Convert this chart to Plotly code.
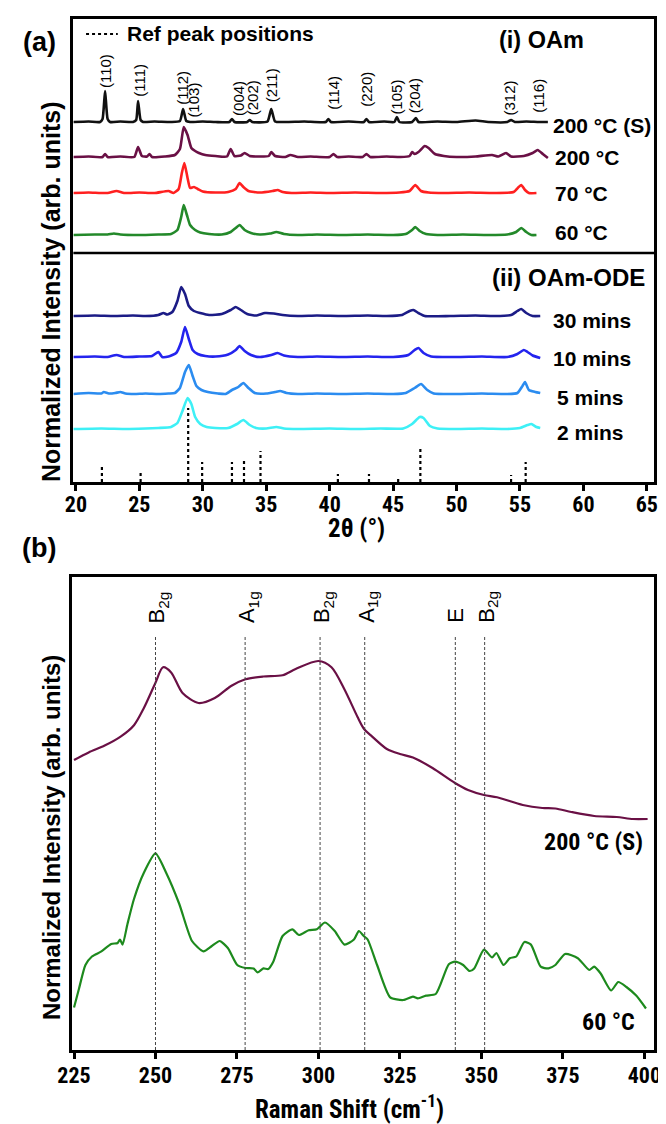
import plotly.graph_objects as go

W, H = 666, 1124

# ---------------- (a) XRD data (intensity in arbitrary units above each baseline) -------------
xrd_names = ["200 °C (S)", "200 °C", "70 °C", "60 °C", "30 mins", "10 mins", "5 mins", "2 mins"]

tt_200S = [19.8, 21.0, 21.9, 22.1, 22.3, 22.5, 22.7, 23.5, 24.5, 24.75, 24.9, 25.1, 25.3, 26.2, 27.5, 28.2,
           28.45, 28.7, 29.0, 30.0, 31.0, 32.1, 32.3, 32.5, 33.5, 33.7, 33.9, 35.1, 35.4, 35.7, 36.5, 38.0,
           39.7, 39.9, 40.1, 41.5, 42.7, 42.9, 43.1, 44.3, 45.1, 45.3, 45.5, 46.5, 46.8, 47.0, 48.5, 50.0,
           51.5, 52.5, 54.0, 54.3, 54.6, 55.5, 56.5, 57.2]
int_200S = [0, 0.5, 0, 3, 31, 3, 0, 0.5, 0, 2, 21, 2, 0, 0.5, 0, 1,
            13, 1, 0, 0.5, 0, 0, 3, 0, 0, 2, 0, 0.5, 13, 0.5, 0, 0.5,
            0, 3, 0, 0.5, 0, 3, 0, 0.5, 0, 5, 0, 0, 4, 0, 0.5, 0,
            1.5, 0, 0, 2, 0, 0.5, 0, 0]

tt_200 = [19.8, 21.0, 22.1, 22.3, 22.5, 23.5, 24.6, 24.9, 25.2, 25.6, 25.8, 26.0, 27.0, 27.8, 28.2, 28.5,
          28.8, 29.1, 29.4, 29.7, 30.2, 31.0, 31.9, 32.2, 32.5, 33.0, 33.3, 33.7, 34.5, 35.2, 35.4, 35.7,
          36.5, 36.9, 37.5, 38.5, 40.0, 40.3, 40.6, 41.5, 42.6, 42.9, 43.2, 44.5, 45.6, 46.3, 46.5, 46.7,
          47.0, 47.5, 47.8, 48.3, 49.0, 50.0, 51.5, 52.8, 53.3, 53.9, 54.3, 55.3, 56.0, 56.4, 56.8, 57.2]
int_200 = [0, 0.5, 0, 3, 0, 0.5, 0, 10, 1, 0.5, 3, 0, 0.5, 2, 8, 30,
           22, 9, 6, 4, 2, 1, 0.5, 8, 1, 1.5, 4, 1, 0.5, 1, 5, 1,
           0, 2, 0, 0.5, 0, 3, 0, 0.5, 0, 3, 0, 0.5, 0, 1, 5, 3,
           5, 11, 9, 3, 1, 0, 0.5, 2, 0.5, 4, 0.5, 1, 4, 7, 3, -1]

tt_70 = [19.8, 21.0, 22.5, 23.2, 23.8, 25.0, 26.2, 27.3, 27.7, 28.1, 28.35, 28.55, 28.8, 29.0, 29.3, 29.6,
         30.0, 31.0, 32.0, 32.6, 32.9, 33.2, 33.6, 34.5, 35.5, 35.9, 36.3, 37.0, 38.5, 40.0, 42.0, 44.0,
         45.5, 46.3, 46.75, 47.2, 47.8, 49.0, 51.0, 53.0, 54.5, 54.9, 55.1, 55.4, 55.7, 56.3]
int_70 = [0, 0.5, 0, 2, 0, 0.5, 0, 2, 0, 4, 20, 30, 15, 5, 6, 4,
          1.5, 0.5, 1, 4, 10, 6, 2, 0.5, 2, 3, 1, 0, 0.5, 0, 0.5, 0,
          0.5, 2, 8, 2, 0.5, 0, 0.5, 0, 1, 6, 8, 3, 0, 0]

tt_60 = [19.8, 21.5, 22.5, 23.0, 23.5, 25.0, 26.5, 27.5, 28.0, 28.3, 28.5, 28.75, 29.0, 29.4, 29.8, 30.5,
         31.5, 32.2, 32.6, 32.9, 33.3, 33.8, 34.5, 35.3, 35.8, 36.4, 37.5, 39.0, 41.0, 43.0, 45.0, 46.0,
         46.5, 46.75, 47.1, 47.6, 48.5, 50.5, 52.5, 54.0, 54.7, 55.1, 55.5, 55.9, 56.3]
int_60 = [0, 0.5, 0.5, 1.5, 0.5, 0, 0.5, 1, 5, 18, 30, 20, 10, 5, 2.5, 1,
          0.5, 3, 7, 10, 5, 2, 0.5, 1.5, 3, 1, 0, 0.5, 0, 0.5, 0, 1,
          5, 8, 4, 1, 0, 0.5, 0, 0.5, 3, 7, 3, 0, 0]

tt_30m = [19.8, 21.5, 23.0, 24.5, 25.5, 26.5, 26.9, 27.2, 27.6, 28.0, 28.3, 28.6, 28.9, 29.3, 29.8, 30.5,
          31.5, 32.2, 32.6, 33.0, 33.5, 34.2, 34.9, 35.6, 36.3, 37.5, 39.0, 41.0, 43.0, 44.5, 45.7, 46.3,
          46.6, 47.0, 47.5, 49.5, 51.5, 53.0, 54.3, 54.8, 55.1, 55.5, 56.0, 56.6]
int_30m = [0, 0.5, 0, 0.5, 0, 1, 3, 1.5, 4, 15, 29, 22, 10, 5, 3, 1,
           2, 6, 9, 6, 2, 0.5, 3, 2.5, 1, 0, 0.5, 0, 0.5, 0, 1, 5,
           6, 3, 0, 0, 0.5, 0, 1, 5, 7, 3, 0, 0]

tt_10m = [19.8, 21.5, 22.5, 23.2, 23.8, 25.0, 26.0, 26.5, 26.8, 27.3, 27.9, 28.3, 28.6, 28.9, 29.2, 29.6,
          30.2, 31.0, 32.0, 32.6, 32.9, 33.3, 33.8, 34.5, 35.4, 35.9, 36.4, 37.5, 39.0, 41.0, 43.0, 45.0,
          46.2, 46.7, 47.0, 47.4, 48.0, 50.0, 52.0, 54.0, 54.8, 55.3, 55.6, 56.0, 56.6]
int_10m = [0, 0.5, 0, 2, 0, 0.5, 1, 5, 0, 0.5, 4, 15, 30, 18, 7, 3,
           1, 0.5, 2.5, 7, 11, 6, 2, 0, 2, 4, 1.5, 0, 0.5, 0, 0.5, 0,
           2, 7, 9, 4, 0.5, 0, 0.5, 0, 3, 7, 5, 1.5, -1]

tt_5m = [19.8, 21.0, 22.0, 22.2, 22.6, 23.1, 23.5, 23.9, 24.6, 25.5, 26.5, 27.3, 27.8, 28.2, 28.6, 28.9,
         29.2, 29.5, 29.9, 30.4, 31.2, 31.8, 32.3, 32.8, 33.2, 33.6, 34.1, 35.0, 35.7, 36.1, 36.6, 37.5,
         39.0, 41.0, 43.0, 45.0, 46.0, 46.7, 47.2, 47.7, 48.2, 50.0, 52.0, 54.0, 54.8, 55.2, 55.4, 55.7,
         56.2, 56.6]
int_5m = [0, 1, 0.5, 2, 0.5, 1, 2, 0.5, 0, 0.5, 0, 0.5, 1, 6, 22, 29,
          18, 8, 4, 2, 0.5, 0, 4, 7, 11, 6, 1, 0.5, 2, 3, 1, 0,
          0.5, 0, 0.5, 0, 1, 6, 10, 4, 0.5, 0, 0.5, 0, 1, 8, 12, 4,
          2, 1]

tt_2m = [19.8, 22.0, 24.0, 25.5, 26.5, 27.5, 28.0, 28.4, 28.8, 29.1, 29.4, 29.8, 30.3, 31.0, 32.0, 32.7,
         33.2, 33.7, 34.2, 35.0, 35.8, 36.4, 37.5, 40.0, 42.0, 44.0, 45.8, 46.5, 47.1, 47.4, 47.9, 48.5,
         50.0, 52.0, 54.0, 55.0, 55.6, 55.9, 56.3, 56.6]
int_2m = [0, 0.5, 0, 0.5, 1, 2, 6, 18, 31, 25, 12, 5, 2, 1, 1, 5,
          9, 4, 1, 0.5, 2, 0.5, 0, 0.5, 0, 0.5, 0.5, 5, 12, 11, 3, 0.5,
          0, 0.5, 0, 1, 4, 5, 2, 1]

ref_2theta = [22.05, 25.1, 28.85, 29.95, 32.3, 33.25, 34.55, 40.65, 43.1, 45.4, 47.15, 54.3, 55.45]
ref_int = [16, 12, 74, 20, 20, 21, 31, 8, 8, 6, 33, 7, 20]

hkl_text = ["(110)", "(111)", "(112)", "(103)", "(004)", "(202)", "(211)", "(114)", "(220)", "(105)",
            "(204)", "(312)", "(116)"]
hkl_2theta = [22.3, 24.95, 28.35, 29.2, 32.77, 33.9, 35.4, 40.25, 42.85, 45.2, 46.66, 54.1, 56.4]

xrd_ticks = [20, 25, 30, 35, 40, 45, 50, 55, 60, 65]

# ---------------- (b) Raman data ----------------
raman_x_200S = [225, 229.5, 234.4, 239.4, 243.4, 246.4, 250, 252.3, 254.8, 258.3, 263.2, 268.2, 273.2, 277.6,
                283.1, 289, 293, 300, 304, 308, 312, 314, 316.1, 321, 325, 329, 335, 341.9, 345.9, 350.8,
                354.8, 362.7, 368.7, 372.7, 377.6, 384.6, 391.5, 396.5, 401]
raman_y_200S = [290, 297.6, 304.4, 313.6, 324.8, 341.8, 367.3, 382.7, 377.6, 357, 347, 352, 364, 370.7,
                373.5, 374.8, 381, 389, 382.7, 360.5, 333, 321, 314.6, 301, 296, 292.5, 282, 267, 260, 255,
                252.7, 245, 242, 241.5, 238, 234, 233, 231, 231]

raman_x_60 = [225, 226.5, 228.5, 230.5, 233.4, 236.4, 238.4, 239.1, 239.9, 241.4, 243.4, 246.4, 250, 253.3,
              257.3, 261.2, 264.7, 267.2, 269.7, 272.2, 275.1, 277.6, 280.1, 281.3, 283.1, 284.6, 286.1, 289,
              292, 294, 297, 299.5, 302, 305, 308, 310.9, 312.4, 313.9, 315.1, 318, 322, 326, 329, 330.5,
              333, 336, 340, 341.9, 344.4, 346.4, 347.8, 350.8, 353.3, 354.6, 356.8, 358.7, 360.7, 363.2,
              365.2, 368.2, 370.6, 372.7, 375.7, 379.6, 383.1, 384.6, 386.6, 389.8, 392, 394.5, 397.5, 400.5]
raman_y_60 = [42.5, 61, 85, 93.5, 98.6, 106, 107, 110.5, 105.4, 126, 151, 177, 196.6, 177,
              146, 109, 98.6, 103.7, 109, 102, 85, 82, 81.6, 77.6, 81.6, 81, 88, 114,
              120.7, 115, 119.7, 120.7, 127.5, 119, 105.4, 110.5, 119, 114, 110.5, 85, 52.7, 50, 53.4, 51.7,
              54.4, 56, 85.7, 88.4, 85, 79, 81.6, 100.3, 92.5, 97, 85, 91.8, 93.5, 108,
              105.4, 83.3, 81.6, 85, 96, 91.8, 80, 83.3, 76.5, 59.5, 68, 63, 54.4, 41.5]

mode_shift = [250, 277.5, 300.5, 314.2, 342, 351]
mode_text = ["B<sub>2g</sub>", "A<sub>1g</sub>", "B<sub>2g</sub>", "A<sub>1g</sub>", "E", "B<sub>2g</sub>"]
raman_ticks = [225, 250, 275, 300, 325, 350, 375, 400]

# ---------------- styling / layout ----------------
ARIAL = "Liberation Sans, Arial, Helvetica, sans-serif"
NARROW = "Roboto Condensed, DejaVu Sans Condensed, sans-serif"
OFF = 8  # the page places the figure 8 px from the window's top-left corner


def PX(px):
    return (px - OFF) / W


def PY(py):
    return 1 - (py - OFF) / H


xrd_series = [(tt_200S, int_200S), (tt_200, int_200), (tt_70, int_70), (tt_60, int_60),
              (tt_30m, int_30m), (tt_10m, int_10m), (tt_5m, int_5m), (tt_2m, int_2m)]
xrd_offsets = [360, 325, 289, 247, 166, 125, 88, 53]
xrd_colors = ["#111111", "#6a1045", "#ff2020", "#23892a", "#1c1c86", "#2424ee", "#2b8cf0", "#3ef0f6"]
label_left_px = [553, 555, 555, 555, 553, 553, 557, 557]
label_y_px = [125, 157, 194, 233, 320, 358, 397, 432]

fig = go.Figure()

for (xs, ys), off, col in zip(xrd_series, xrd_offsets, xrd_colors):
    fig.add_trace(go.Scatter(x=xs, y=[v + off for v in ys], mode="lines",
                             line=dict(color=col, width=2.6, shape="spline", smoothing=0.5),
                             xaxis="x", yaxis="y", showlegend=False, hoverinfo="skip"))

rx, ry = [], []
for p, h in zip(ref_2theta, ref_int):
    rx += [p, p, None]
    ry += [0, h, None]
fig.add_trace(go.Scatter(x=rx, y=ry, mode="lines", line=dict(color="black", width=2.2, dash="dot"),
                         xaxis="x", yaxis="y", showlegend=False, hoverinfo="skip"))
fig.add_trace(go.Scatter(x=[20.8, 23.3], y=[448, 448], mode="lines",
                         line=dict(color="black", width=2, dash="dot"),
                         xaxis="x", yaxis="y", showlegend=False, hoverinfo="skip"))

fig.add_trace(go.Scatter(x=raman_x_200S, y=raman_y_200S, mode="lines",
                         line=dict(color="#6a1045", width=2.2, shape="spline", smoothing=0.8),
                         xaxis="x2", yaxis="y2", showlegend=False, hoverinfo="skip"))
fig.add_trace(go.Scatter(x=raman_x_60, y=raman_y_60, mode="lines",
                         line=dict(color="#1d8a1d", width=2.2, shape="spline", smoothing=0.6),
                         xaxis="x2", yaxis="y2", showlegend=False, hoverinfo="skip"))
mx, my = [], []
for m in mode_shift:
    mx += [m, m, None]
    my += [0, 414, None]
fig.add_trace(go.Scatter(x=mx, y=my, mode="lines", line=dict(color="#444444", width=1, dash="3px,2px"),
                         xaxis="x2", yaxis="y2", showlegend=False, hoverinfo="skip"))

ann = []
hkl_yc_px = [71, 80, 88, 100, 98, 98, 85, 93, 89, 97, 96, 98, 96]
for t, x, yc in zip(hkl_text, hkl_2theta, hkl_yc_px):
    ann.append(dict(x=x, y=482 - yc, xref="x", yref="y", text=t, textangle=-90, showarrow=False,
                    font=dict(family=ARIAL, size=15, color="black"), xanchor="center", yanchor="middle"))
for name, lx, ly in zip(xrd_names, label_left_px, label_y_px):
    ann.append(dict(x=PX(lx), y=PY(ly), xref="paper", yref="paper", text="<b>%s</b>" % name,
                    showarrow=False, font=dict(family=ARIAL, size=21, color="black"),
                    xanchor="left", yanchor="middle"))


def txt(x, y, s, size, fam=ARIAL, xa="center", angle=0):
    return dict(x=PX(x), y=PY(y), xref="paper", yref="paper", text=s, showarrow=False, textangle=angle,
                font=dict(family=fam, size=size, color="black"), xanchor=xa, yanchor="middle")


ann += [
    txt(113, 34, "<b>Ref peak positions</b>", 21, xa="left"),
    txt(497, 40, "<b>(i) OAm</b>", 23.5, xa="left"),
    txt(490, 277, "<b>(ii) OAm-ODE</b>", 24, xa="left"),
    txt(25, 42, "<b>(a)</b>", 27),
    txt(25, 548, "<b>(b)</b>", 27),
    txt(37, 292, "<b>Normalized Intensity (arb. units)</b>", 25, angle=-90),
    txt(37, 838, "<b>Normalized Intensity (arb. units)</b>", 24, angle=-90),
    txt(352, 528, "<b>2θ (°)</b>", 25, fam=NARROW),
    txt(345, 1107, "<b>Raman Shift (cm<sup>-1</sup>)</b>", 25, fam=NARROW),
    txt(650, 842, "<b>200 °C (S)</b>", 24, fam=NARROW, xa="right"),
    txt(642, 1022, "<b>60 °C</b>", 24, fam=NARROW, xa="right"),
]
for m, t in zip(mode_shift, mode_text):
    ann.append(dict(x=m, y=425, xref="x2", yref="y2", text=t, textangle=-90, showarrow=False,
                    font=dict(family=ARIAL, size=22, color="black"), xanchor="center", yanchor="bottom",
                    xshift=0 if t == "E" else 3))

axis_common = dict(showline=True, linecolor="black", linewidth=2.5, mirror=True, showgrid=False,
                   zeroline=False)
tick_font = dict(family=NARROW, size=22, color="black", weight="bold")
fig.update_layout(
    width=W, height=H, margin=dict(l=0, r=0, t=0, b=0),
    paper_bgcolor="white", plot_bgcolor="white", showlegend=False,
    xaxis=dict(domain=[PX(60), PX(660)], range=[19.8, 65.6], anchor="y", tickvals=xrd_ticks,
               ticks="outside", ticklen=6, tickwidth=2.5, tickcolor="black", tickfont=tick_font,
               ticklabelstandoff=-5, **axis_common),
    yaxis=dict(domain=[PY(482), PY(19)], range=[0, 463], anchor="x", showticklabels=False,
               ticks="", **axis_common),
    xaxis2=dict(domain=[PX(59), PX(660)], range=[224.5, 403.1], anchor="y2", tickvals=raman_ticks,
                ticks="outside", ticklen=6, tickwidth=2.5, tickcolor="black", tickfont=tick_font,
                ticklabelstandoff=-2, **axis_common),
    yaxis2=dict(domain=[PY(1050), PY(577)], range=[0, 473], anchor="x2", showticklabels=False,
                ticks="", **axis_common),
    annotations=ann,
    shapes=[dict(type="line", xref="paper", yref="y", x0=PX(60), x1=PX(660), y0=229, y1=229,
                 line=dict(color="black", width=2.5))],
)

fig.write_html("out.html")
